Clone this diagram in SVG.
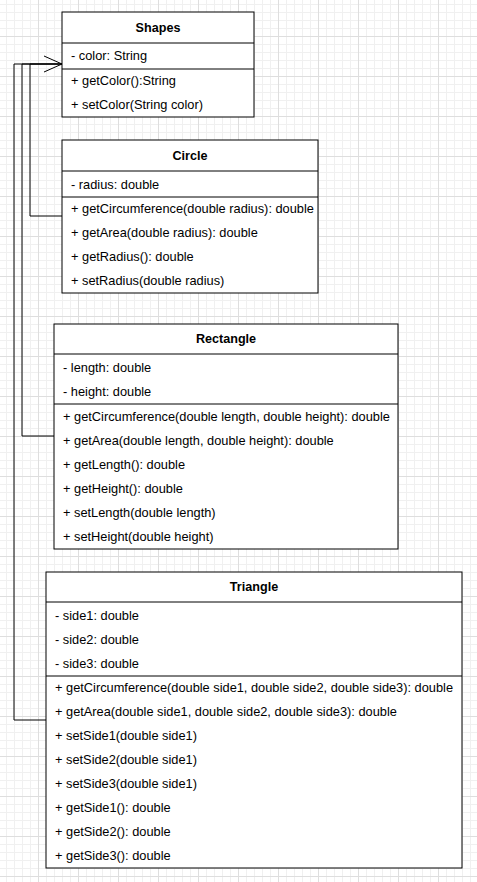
<svg xmlns="http://www.w3.org/2000/svg" width="477" height="882" viewBox="0 0 477 882">
<style>
.box{fill:#fff;stroke:#000;stroke-width:1}
.div{stroke:#000;stroke-width:1;fill:none}
.t{font-family:"Liberation Sans",Arial,sans-serif;font-size:12.8px;fill:#000}
.h{font-family:"Liberation Sans",Arial,sans-serif;font-size:12.6px;font-weight:bold;fill:#000;text-anchor:middle}
.e{fill:none;stroke:#000;stroke-width:1}
</style>
<defs>
<pattern id="grid" patternUnits="userSpaceOnUse" x="-2" y="-4" width="40" height="40">
<rect x="0" y="0" width="40" height="40" fill="#fff"/>
<g fill="#f0f0f0">
<rect x="8" y="0" width="1" height="40"/><rect x="16" y="0" width="1" height="40"/><rect x="24" y="0" width="1" height="40"/><rect x="32" y="0" width="1" height="40"/>
<rect x="0" y="8" width="40" height="1"/><rect x="0" y="16" width="40" height="1"/><rect x="0" y="24" width="40" height="1"/><rect x="0" y="32" width="40" height="1"/>
</g>
<g fill="#dedede">
<rect x="0" y="0" width="1" height="40"/><rect x="0" y="0" width="40" height="1"/>
</g>
</pattern>
</defs>
<rect x="0" y="0" width="477" height="882" fill="url(#grid)"/>

<g id="connectors">
<polyline class="e" points="62,216 30,216 30,64 62,64"/>
<polyline class="e" points="54,436 22,436 22,64 62,64"/>
<polyline class="e" points="46,720 14,720 14,64 62,64"/>
<polyline class="e" points="44,56 62,64 44,72"/>
</g>

<g id="Shapes">
<rect class="box" x="62" y="12" width="192" height="105"/>
<line class="div" x1="62" y1="43" x2="254" y2="43"/>
<line class="div" x1="62" y1="69" x2="254" y2="69"/>
<text class="h" x="158" y="32">Shapes</text>
<text class="t" x="71" y="60">- color: String</text>
<text class="t" x="71" y="85">+ getColor():String</text>
<text class="t" x="71" y="109">+ setColor(String color)</text>
</g>

<g id="Circle">
<rect class="box" x="62" y="140" width="256" height="153"/>
<line class="div" x1="62" y1="171" x2="318" y2="171"/>
<line class="div" x1="62" y1="197" x2="318" y2="197"/>
<text class="h" x="190" y="160">Circle</text>
<text class="t" x="71" y="189">- radius: double</text>
<text class="t" x="71" y="213">+ getCircumference(double radius): double</text>
<text class="t" x="71" y="237">+ getArea(double radius): double</text>
<text class="t" x="71" y="261">+ getRadius(): double</text>
<text class="t" x="71" y="285">+ setRadius(double radius)</text>
</g>

<g id="Rectangle">
<rect class="box" x="54" y="324" width="344" height="225"/>
<line class="div" x1="54" y1="354" x2="398" y2="354"/>
<line class="div" x1="54" y1="404" x2="398" y2="404"/>
<text class="h" x="226" y="343">Rectangle</text>
<text class="t" x="63" y="372">- length: double</text>
<text class="t" x="63" y="396">- height: double</text>
<text class="t" x="63" y="421">+ getCircumference(double length, double height): double</text>
<text class="t" x="63" y="445">+ getArea(double length, double height): double</text>
<text class="t" x="63" y="469">+ getLength(): double</text>
<text class="t" x="63" y="493">+ getHeight(): double</text>
<text class="t" x="63" y="517">+ setLength(double length)</text>
<text class="t" x="63" y="541">+ setHeight(double height)</text>
</g>

<g id="Triangle">
<rect class="box" x="46" y="572" width="416" height="296"/>
<line class="div" x1="46" y1="602" x2="462" y2="602"/>
<line class="div" x1="46" y1="676" x2="462" y2="676"/>
<text class="h" x="254" y="591">Triangle</text>
<text class="t" x="55" y="620">- side1: double</text>
<text class="t" x="55" y="644">- side2: double</text>
<text class="t" x="55" y="668">- side3: double</text>
<text class="t" x="55" y="692">+ getCircumference(double side1, double side2, double side3): double</text>
<text class="t" x="55" y="716">+ getArea(double side1, double side2, double side3): double</text>
<text class="t" x="55" y="740">+ setSide1(double side1)</text>
<text class="t" x="55" y="764">+ setSide2(double side1)</text>
<text class="t" x="55" y="788">+ setSide3(double side1)</text>
<text class="t" x="55" y="812">+ getSide1(): double</text>
<text class="t" x="55" y="836">+ getSide2(): double</text>
<text class="t" x="55" y="860">+ getSide3(): double</text>
</g>
</svg>
